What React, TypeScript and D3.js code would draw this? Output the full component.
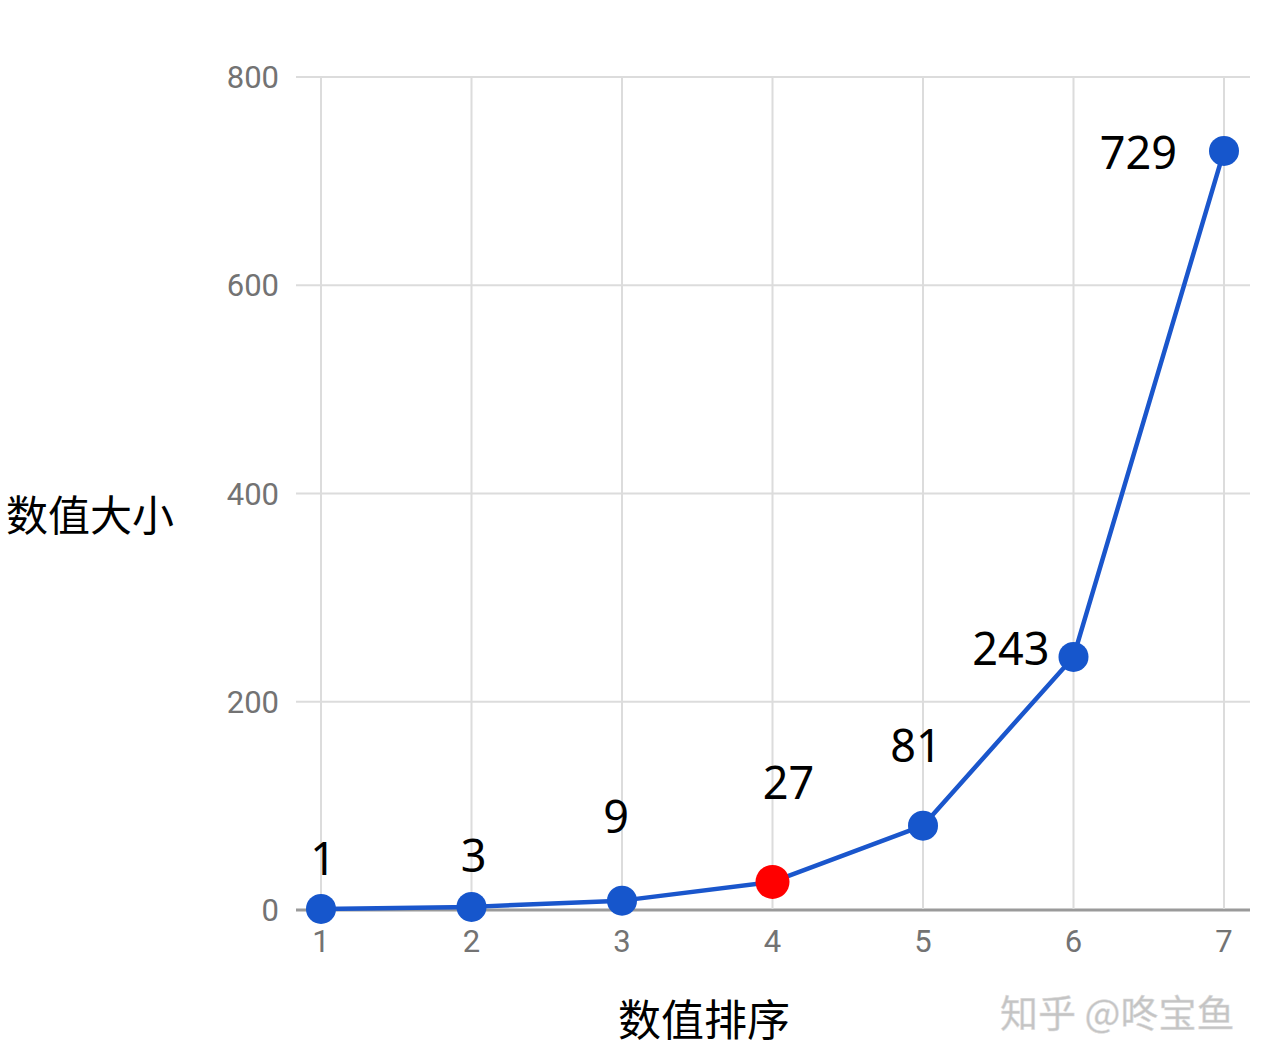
import React from "react";
import * as d3 from "d3";

const categories = [1, 2, 3, 4, 5, 6, 7];
const values = [1, 3, 9, 27, 81, 243, 729];
const highlightIndex = 3;
const yTicks = [0, 200, 400, 600, 800];
const labelPlacement = ["above", "above", "above", "above", "above", "left", "left"];

const W = 1269;
const H = 1062;

export default function App() {
  const x = d3.scaleLinear().domain([1, 7]).range([321, 1224]);
  const y = d3.scaleLinear().domain([0, 800]).range([910, 77]);
  const line = d3
    .line<number>()
    .x((_, i) => x(categories[i]))
    .y((d) => y(d));

  const labelOffsets: Record<number, [number, number]> = {
    0: [2, -34],
    1: [2, -35],
    2: [-6, -68],
    3: [16, -83],
    4: [-7, -64],
    5: [-24, 8],
    6: [-47, 18],
  };

  return (
    <svg
      width={W}
      height={H}
      style={{ position: "absolute", left: 0, top: 0, background: "#fff" }}
    >
      <rect width={W} height={H} fill="#fff" />
      {yTicks.map((t) => (
        <line
          key={"h" + t}
          x1={296}
          x2={1250}
          y1={y(t)}
          y2={y(t)}
          stroke={t === 0 ? "#9a9a9a" : "#dcdcdc"}
          strokeWidth={t === 0 ? 3 : 2}
        />
      ))}
      {categories.map((c) => (
        <line
          key={"v" + c}
          x1={x(c)}
          x2={x(c)}
          y1={y(800)}
          y2={y(0) - 1}
          stroke="#dcdcdc"
          strokeWidth={2}
        />
      ))}
      {yTicks.map((t) => (
        <text
          key={"yt" + t}
          x={279}
          y={y(t) + 11}
          textAnchor="end"
          fontFamily="Roboto, sans-serif"
          fontSize={31}
          fill="#737373"
        >
          {t}
        </text>
      ))}
      {categories.map((c) => (
        <text
          key={"xt" + c}
          x={x(c)}
          y={952}
          textAnchor="middle"
          fontFamily="Roboto, sans-serif"
          fontSize={31}
          fill="#737373"
        >
          {c}
        </text>
      ))}
      <path d={line(values) || ""} fill="none" stroke="#1a56cc" strokeWidth={4.5} strokeLinejoin="round" />
      {values.map((v, i) => (
        <circle
          key={"p" + i}
          cx={x(categories[i])}
          cy={y(v)}
          r={i === highlightIndex ? 17 : 15}
          fill={i === highlightIndex ? "#ff0000" : "#1656cc"}
        />
      ))}
      {values.map((v, i) => {
        const px = x(categories[i]);
        const py = y(v);
        const o = labelOffsets[i];
        return (
          <text
            key={"l" + i}
            x={px + o[0]}
            y={py + o[1]}
            textAnchor={labelPlacement[i] === "above" ? "middle" : "end"}
            fontFamily="'Noto Sans', 'Noto Sans CJK SC', sans-serif"
            fontSize={45}
            fill="#000"
          >
            {v}
          </text>
        );
      })}
      <text x={6} y={531} fontFamily="'Noto Sans CJK SC', sans-serif" fontSize={42} fill="#000">
        数值大小
      </text>
      <text
        x={704}
        y={1036}
        textAnchor="middle"
        fontFamily="'Noto Sans CJK SC', sans-serif"
        fontSize={43}
        fill="#000"
      >
        数值排序
      </text>
      <text
        x={1000}
        y={1027}
        fontFamily="'Noto Sans CJK SC', sans-serif"
        fontSize={38}
        fill="#c4c4c4"
        stroke="#dedede"
        strokeWidth={0.5}
      >
        知乎 @咚宝鱼
      </text>
    </svg>
  );
}
